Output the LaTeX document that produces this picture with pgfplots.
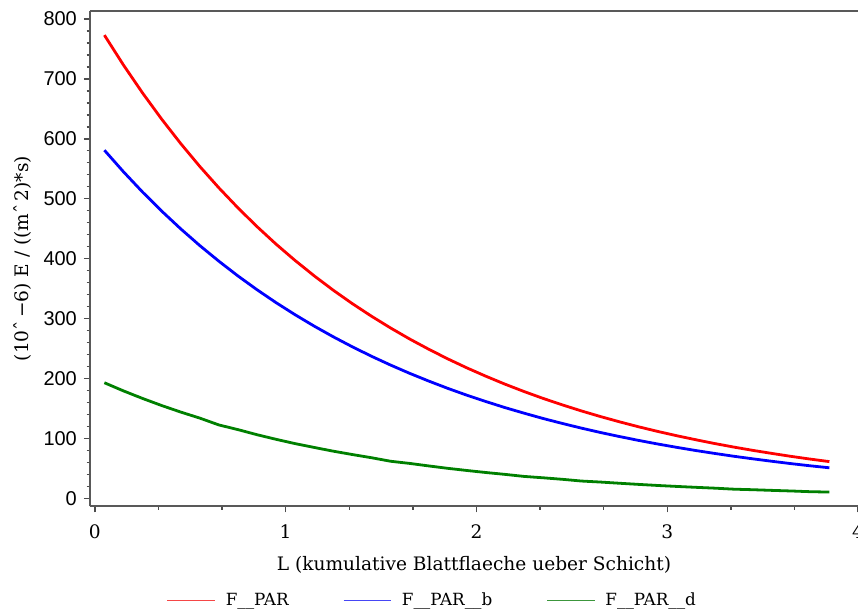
\documentclass[border=0pt]{standalone}
\usepackage{fontspec}
\setmainfont{DejaVu Serif}
\newfontfamily\sansf{Liberation Sans}
\usepackage{pgfplots}
\pgfplotsset{compat=1.18}
\definecolor{legred}{RGB}{245,70,70}
\definecolor{legblue}{RGB}{70,70,245}
\definecolor{leggreen}{RGB}{60,150,60}
\pgfplotsset{
  legr/.style={legend image code/.code={\draw[legred, line width=0.9pt] (0pt,0pt) -- (24pt,0pt); \path (27pt,0pt);}},
  legb/.style={legend image code/.code={\draw[legblue, line width=0.9pt] (0pt,0pt) -- (24pt,0pt); \path (27pt,0pt);}},
  legg/.style={legend image code/.code={\draw[leggreen, line width=0.9pt] (0pt,0pt) -- (24pt,0pt); \path (27pt,0pt);}},
}

\pgfplotstableread{
x     par    parb   pard
0.05  773.0  581.0  193.0
0.15  723.1  545.0  179.4
0.25  676.5  511.2  166.8
0.35  632.9  479.5  155.0
0.45  592.1  449.8  144.1
0.55  553.9  421.9  134.0
0.65  518.2  395.8  122.6
0.75  484.8  371.2  114.8
0.85  453.5  348.2  106.3
0.95  424.2  326.6   98.6
1.05  396.9  306.4   91.4
1.15  371.3  287.4   85.0
1.25  347.3  269.6   78.8
1.35  324.9  252.9   73.2
1.45  304.0  237.2   67.9
1.55  284.4  222.5   62.0
1.65  266.0  208.7   58.4
1.75  248.9  195.8   54.2
1.85  232.8  183.6   50.2
1.95  217.8  172.2   46.6
2.05  203.8  161.6   43.2
2.15  190.6  151.5   40.1
2.25  178.3  142.2   36.7
2.35  166.8  133.3   34.4
2.45  156.1  125.1   31.9
2.55  146.0  117.3   29.0
2.65  136.6  110.0   27.3
2.75  127.8  103.2   25.3
2.85  119.5   96.8   23.4
2.95  111.8   90.8   21.6
3.05  104.6   85.2   20.0
3.15   97.9   79.9   18.5
3.25   91.5   75.0   17.1
3.35   85.6   70.3   15.4
3.45   80.1   66.0   14.5
3.55   75.0   61.9   13.4
3.65   70.1   58.0   12.4
3.75   65.6   54.4   11.2
3.85   61.4   51.1   10.6
}\fpar

\begin{document}
\begin{tikzpicture}
\begin{axis}[
    scale only axis,
    width=384.5pt, height=248pt,
    xmin=-0.026, xmax=4,
    ymin=-13.3, ymax=813.3,
    axis lines*=left,
    axis line style={draw=black!65, line width=1pt},
    xtick={0,1,2,3,4},
    minor x tick num=2,
    ytick={0,100,...,800},
    minor y tick num=4,
    tick align=outside,
    tick style={draw=black!70, line width=0.7pt},
    major tick length=3pt,
    minor tick length=1.6pt,
    /pgf/number format/assume math mode=true,
    xticklabel style={font=\fontsize{9.3}{10}\selectfont, yshift=-2.5pt},
    yticklabel style={font=\sansf\fontsize{10}{11}\selectfont},
    xlabel={L (kumulative Blattflaeche ueber Schicht)},
    ylabel={(10ˆ\,−6) E / ((mˆ\,2)*s)},
    label style={font=\fontsize{9.3}{11}\selectfont},
    xlabel style={yshift=-2pt},
    ylabel style={yshift=-1pt},
    legend columns=3,
    legend style={draw=none, fill=none, at={(0.447,-0.19)}, anchor=center,
        font=\fontsize{8.4}{10}\selectfont,
        /tikz/every even column/.append style={column sep=25pt}},
    clip=false,
]
\addplot[red, line width=1.4pt, forget plot] table[x=x, y=par] {\fpar};
\addplot[blue, line width=1.4pt, forget plot] table[x=x, y=parb] {\fpar};
\addplot[green!50!black, line width=1.4pt, forget plot] table[x=x, y=pard] {\fpar};
\addlegendimage{legr}
\addlegendentry{F\_\_PAR}
\addlegendimage{legb}
\addlegendentry{F\_\_PAR\_\_b}
\addlegendimage{legg}
\addlegendentry{F\_\_PAR\_\_d}
\coordinate (bl) at (rel axis cs:0,0);
\coordinate (tr) at (rel axis cs:1,1);
\coordinate (tl) at (rel axis cs:0,1);
\end{axis}
\draw[black!65, line width=1pt] (tl) -- (tr);
\pgfresetboundingbox
\path[use as bounding box] (bl) ++(-45pt,-52pt) rectangle ([yshift=5.5pt]tr);
\end{tikzpicture}
\end{document}
